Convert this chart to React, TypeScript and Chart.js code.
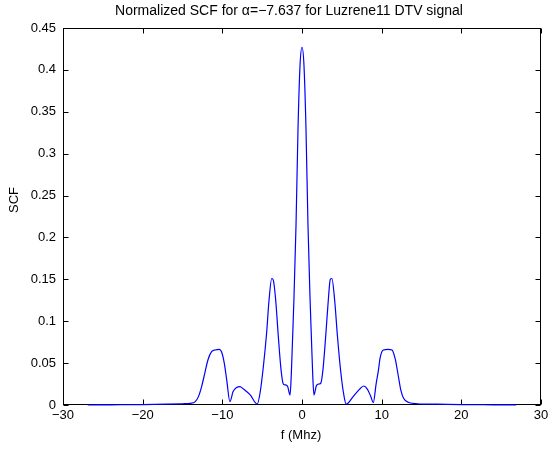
import React, { useEffect, useRef } from "react";
import { Chart, registerables } from "chart.js";

Chart.register(...registerables);

const titleText = "Normalized SCF for \u03b1=\u22127.637 for Luzrene11 DTV signal";
const xLabel = "f (Mhz)";
const yLabel = "SCF";

const xTicks = [-30, -20, -10, 0, 10, 20, 30];
const yTicks = [0, 0.05, 0.1, 0.15, 0.2, 0.25, 0.3, 0.35, 0.4, 0.45];

const freqs = [
  -26.9, -24, -20, -17, -15, -14, -13.4, -13.0, -12.6, -12.2, -11.8, -11.35, -10.9, -10.4, -10.1,
  -9.75, -9.45, -9.05, -8.65, -8.2, -7.8, -7.35, -6.5, -5.62, -5.27, -4.86, -4.45, -4.14, -3.8,
  -3.6, -3.3, -2.97, -2.63, -2.34, -2.05, -1.8, -1.5, -1.35, -1.2, -1.0, -0.75, -0.5, -0.25, 0,
  0.25, 0.5, 0.75, 1.0, 1.2, 1.35, 1.5, 1.8, 2.05, 2.35, 2.63, 2.97, 3.3, 3.55, 3.75, 4.1, 4.45,
  4.86, 5.25, 5.55, 6.5, 7.35, 7.75, 8.2, 8.6, 8.95, 9.3, 9.6, 9.8, 10.2, 10.8, 11.3, 11.7, 12.1,
  12.4, 12.75, 13.4, 14.5, 17, 20, 24, 26.9,
];

const scf = [
  0.0, 0.0002, 0.0005, 0.001, 0.0015, 0.002, 0.004, 0.01, 0.022, 0.038, 0.054, 0.0636, 0.0657,
  0.0665, 0.0636, 0.0497, 0.03, 0.004, 0.016, 0.021, 0.022, 0.019, 0.012, 0.001, 0.014, 0.045,
  0.085, 0.125, 0.151, 0.149, 0.125, 0.0815, 0.042, 0.025, 0.024, 0.022, 0.012, 0.035, 0.075,
  0.13, 0.215, 0.33, 0.405, 0.427, 0.405, 0.33, 0.215, 0.13, 0.075, 0.035, 0.012, 0.023, 0.025,
  0.026, 0.042, 0.0815, 0.125, 0.15, 0.151, 0.125, 0.082, 0.04, 0.012, 0.001, 0.011, 0.02,
  0.0227, 0.019, 0.011, 0.003, 0.025, 0.042, 0.056, 0.0657, 0.0665, 0.0657, 0.055, 0.034, 0.018,
  0.008, 0.003, 0.0015, 0.001, 0.0005, 0.0002, 0.0,
];

const FONT = "'Liberation Sans', Arial, Helvetica, sans-serif";

const fmt = (v: number) => {
  const s = String(Number(v.toFixed(2)));
  return v < 0 ? "\u2212" + s.replace("-", "") : s;
};

const framePlugin = {
  id: "matlabFrame",
  beforeDatasetsDraw(chart: any) {
    const { ctx, chartArea, scales } = chart;
    const l = Math.round(chartArea.left) + 0.5;
    const r = Math.round(chartArea.right) - 0.5;
    const t = Math.round(chartArea.top) + 0.5;
    const b = Math.round(chartArea.bottom) - 0.5;
    ctx.save();
    ctx.strokeStyle = "#000";
    ctx.lineWidth = 1;
    ctx.strokeRect(l, t, r - l, b - t);
    const tl = 5;
    ctx.beginPath();
    for (const v of xTicks) {
      const x = Math.round(scales.x.getPixelForValue(v)) + 0.5;
      ctx.moveTo(x, b);
      ctx.lineTo(x, b - tl);
      ctx.moveTo(x, t);
      ctx.lineTo(x, t + tl);
    }
    for (const v of yTicks) {
      const y = Math.round(scales.y.getPixelForValue(v)) + 0.5;
      ctx.moveTo(l, y);
      ctx.lineTo(l + tl, y);
      ctx.moveTo(r, y);
      ctx.lineTo(r - tl, y);
    }
    ctx.stroke();
    ctx.restore();
  },
  afterDraw(chart: any) {
    const { ctx } = chart;
    ctx.save();
    ctx.fillStyle = "#000";
    ctx.font = `14px ${FONT}`;
    ctx.textAlign = "center";
    ctx.textBaseline = "middle";
    ctx.fillText(titleText, 289, 11);
    ctx.font = `13px ${FONT}`;
    ctx.fillText(xLabel, 301, 435);
    ctx.translate(14, 200);
    ctx.rotate(-Math.PI / 2);
    ctx.fillText(yLabel, 0, 0);
    ctx.restore();
  },
};

export default function App() {
  const ref = useRef<HTMLCanvasElement | null>(null);
  useEffect(() => {
    if (!ref.current) return;
    const chart = new Chart(ref.current, {
      type: "line",
      data: {
        datasets: [
          {
            data: freqs.map((f, i) => ({ x: f, y: scf[i] })),
            borderColor: "#0000ff",
            borderWidth: 1.2,
            pointRadius: 0,
            fill: false,
            cubicInterpolationMode: "monotone",
            clip: 4,
          } as any,
        ],
      },
      options: {
        responsive: false,
        animation: false,
        layout: { padding: { top: 28, right: 7, left: 0, bottom: 0 }, autoPadding: false },
        plugins: { legend: { display: false }, tooltip: { enabled: false }, title: { display: false } },
        scales: {
          x: {
            type: "linear",
            min: -30,
            max: 30,
            afterFit: (s: any) => {
              s.height = 44;
              s.paddingLeft = 0;
              s.paddingRight = 0;
            },
            afterBuildTicks: (s: any) => {
              s.ticks = xTicks.map((v) => ({ value: v }));
            },
            grid: { display: false, drawTicks: false },
            border: { display: false },
            ticks: {
              padding: 3,
              maxRotation: 0,
              autoSkip: false,
              color: "#000",
              font: { family: FONT, size: 13 },
              callback: (v: any) => fmt(Number(v)),
            },
          },
          y: {
            type: "linear",
            min: 0,
            max: 0.45,
            afterFit: (s: any) => {
              s.width = 63;
              s.paddingTop = 0;
              s.paddingBottom = 0;
            },
            afterBuildTicks: (s: any) => {
              s.ticks = yTicks.map((v) => ({ value: v }));
            },
            grid: { display: false, drawTicks: false },
            border: { display: false },
            ticks: {
              padding: 7,
              autoSkip: false,
              color: "#000",
              font: { family: FONT, size: 13 },
              callback: (v: any) => fmt(Number(v)),
            },
          },
        },
      },
      plugins: [framePlugin],
    });
    return () => chart.destroy();
  }, []);
  return (
    <div style={{ position: "absolute", left: 0, top: 0, width: 548, height: 449, background: "#fff" }}>
      <canvas ref={ref} width={548} height={449} style={{ display: "block" }} />
    </div>
  );
}
